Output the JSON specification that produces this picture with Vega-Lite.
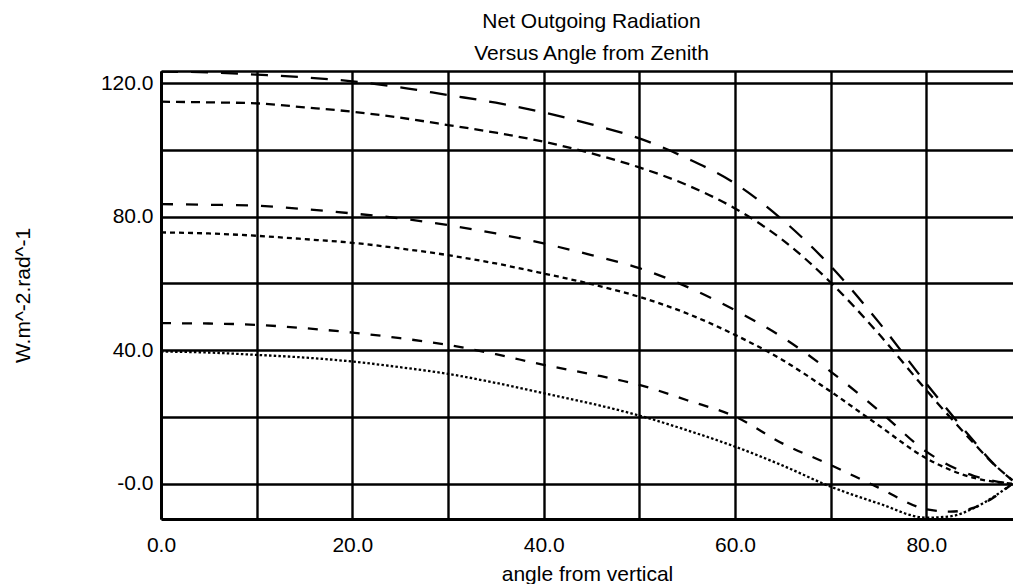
{
  "$schema": "https://vega.github.io/schema/vega-lite/v6.json",
  "width": 852,
  "height": 448,
  "autosize": {"type": "none"},
  "padding": {"left": 161, "top": 71, "right": 0, "bottom": 65},
  "background": "white",
  "config": {
    "view": {"stroke": null},
    "font": "Liberation Sans",
    "axis": {
      "gridColor": "black", "gridWidth": 2.4, "gridOpacity": 1,
      "domainColor": "black", "domainWidth": 3,
      "ticks": false, "labelFontSize": 21, "labelColor": "black",
      "labelFont": "Liberation Sans", "titleFont": "Liberation Sans",
      "titleFontSize": 21, "titleFontWeight": "normal", "titleColor": "black",
      "labelOverlap": false, "labelFlush": false, "labelBound": false
    }
  },
  "title": {
    "text": ["Net Outgoing Radiation", "Versus Angle from Zenith"],
    "fontSize": 21, "fontWeight": "normal", "lineHeight": 32,
    "anchor": "middle", "frame": "group", "dx": 4.5, "offset": -4, "color": "black",
    "font": "Liberation Sans"
  },
  "data": {"values": [
    {"series": "A", "angle": 0, "value": 123.5}, {"series": "A", "angle": 5, "value": 123.3}, {"series": "A", "angle": 10, "value": 122.6}, {"series": "A", "angle": 15, "value": 121.8}, {"series": "A", "angle": 20, "value": 120.6}, {"series": "A", "angle": 25, "value": 118.8}, {"series": "A", "angle": 30, "value": 116.5}, {"series": "A", "angle": 35, "value": 114.2}, {"series": "A", "angle": 40, "value": 111.3}, {"series": "A", "angle": 45, "value": 107.7}, {"series": "A", "angle": 50, "value": 103.5}, {"series": "A", "angle": 55, "value": 97.5}, {"series": "A", "angle": 60, "value": 90}, {"series": "A", "angle": 65, "value": 79}, {"series": "A", "angle": 70, "value": 65.2}, {"series": "A", "angle": 75, "value": 48.5}, {"series": "A", "angle": 80, "value": 30}, {"series": "A", "angle": 85, "value": 12.6}, {"series": "A", "angle": 87, "value": 6}, {"series": "A", "angle": 89, "value": 1},
    {"series": "B", "angle": 0, "value": 114.5}, {"series": "B", "angle": 5, "value": 114.3}, {"series": "B", "angle": 10, "value": 114}, {"series": "B", "angle": 15, "value": 112.8}, {"series": "B", "angle": 20, "value": 111.5}, {"series": "B", "angle": 25, "value": 109.7}, {"series": "B", "angle": 30, "value": 107.5}, {"series": "B", "angle": 35, "value": 105.2}, {"series": "B", "angle": 40, "value": 102.5}, {"series": "B", "angle": 45, "value": 99}, {"series": "B", "angle": 50, "value": 94.8}, {"series": "B", "angle": 55, "value": 89.5}, {"series": "B", "angle": 60, "value": 82.5}, {"series": "B", "angle": 65, "value": 73}, {"series": "B", "angle": 70, "value": 60.3}, {"series": "B", "angle": 75, "value": 45}, {"series": "B", "angle": 80, "value": 28}, {"series": "B", "angle": 85, "value": 12}, {"series": "B", "angle": 87, "value": 6}, {"series": "B", "angle": 89, "value": 1},
    {"series": "C", "angle": 0, "value": 83.8}, {"series": "C", "angle": 5, "value": 83.6}, {"series": "C", "angle": 10, "value": 83.3}, {"series": "C", "angle": 15, "value": 82.3}, {"series": "C", "angle": 20, "value": 81}, {"series": "C", "angle": 25, "value": 79.5}, {"series": "C", "angle": 30, "value": 77.5}, {"series": "C", "angle": 35, "value": 75}, {"series": "C", "angle": 40, "value": 72}, {"series": "C", "angle": 45, "value": 68.5}, {"series": "C", "angle": 50, "value": 64.6}, {"series": "C", "angle": 55, "value": 59}, {"series": "C", "angle": 60, "value": 52}, {"series": "C", "angle": 65, "value": 43.8}, {"series": "C", "angle": 70, "value": 33.6}, {"series": "C", "angle": 75, "value": 22}, {"series": "C", "angle": 80, "value": 9.6}, {"series": "C", "angle": 85, "value": 2.3}, {"series": "C", "angle": 87, "value": 0.8}, {"series": "C", "angle": 89, "value": 0},
    {"series": "D", "angle": 0, "value": 75.3}, {"series": "D", "angle": 5, "value": 75}, {"series": "D", "angle": 10, "value": 74.3}, {"series": "D", "angle": 15, "value": 73.3}, {"series": "D", "angle": 20, "value": 72.2}, {"series": "D", "angle": 25, "value": 70.5}, {"series": "D", "angle": 30, "value": 68.5}, {"series": "D", "angle": 35, "value": 66}, {"series": "D", "angle": 40, "value": 63}, {"series": "D", "angle": 45, "value": 59.8}, {"series": "D", "angle": 50, "value": 56}, {"series": "D", "angle": 55, "value": 51}, {"series": "D", "angle": 60, "value": 44.6}, {"series": "D", "angle": 65, "value": 37}, {"series": "D", "angle": 70, "value": 27.6}, {"series": "D", "angle": 75, "value": 17.5}, {"series": "D", "angle": 80, "value": 7.6}, {"series": "D", "angle": 85, "value": 1.7}, {"series": "D", "angle": 87, "value": 0.6}, {"series": "D", "angle": 89, "value": 0},
    {"series": "E", "angle": 0, "value": 48.1}, {"series": "E", "angle": 5, "value": 48}, {"series": "E", "angle": 10, "value": 47.6}, {"series": "E", "angle": 15, "value": 46.6}, {"series": "E", "angle": 20, "value": 45.3}, {"series": "E", "angle": 25, "value": 43.6}, {"series": "E", "angle": 30, "value": 41.6}, {"series": "E", "angle": 35, "value": 38.8}, {"series": "E", "angle": 40, "value": 35.6}, {"series": "E", "angle": 45, "value": 32.8}, {"series": "E", "angle": 50, "value": 29.6}, {"series": "E", "angle": 55, "value": 25}, {"series": "E", "angle": 60, "value": 20.1}, {"series": "E", "angle": 65, "value": 12}, {"series": "E", "angle": 70, "value": 5.6}, {"series": "E", "angle": 75, "value": -1.2}, {"series": "E", "angle": 80, "value": -7.7}, {"series": "E", "angle": 82.5, "value": -8.4}, {"series": "E", "angle": 85, "value": -7.2}, {"series": "E", "angle": 87, "value": -4.2}, {"series": "E", "angle": 89, "value": 0},
    {"series": "F", "angle": 0, "value": 39.6}, {"series": "F", "angle": 5, "value": 39.3}, {"series": "F", "angle": 10, "value": 38.6}, {"series": "F", "angle": 15, "value": 37.8}, {"series": "F", "angle": 20, "value": 36.6}, {"series": "F", "angle": 25, "value": 34.9}, {"series": "F", "angle": 30, "value": 32.9}, {"series": "F", "angle": 35, "value": 30.2}, {"series": "F", "angle": 40, "value": 27.1}, {"series": "F", "angle": 45, "value": 24}, {"series": "F", "angle": 50, "value": 20.4}, {"series": "F", "angle": 55, "value": 16}, {"series": "F", "angle": 60, "value": 11.1}, {"series": "F", "angle": 65, "value": 5.4}, {"series": "F", "angle": 70, "value": -0.9}, {"series": "F", "angle": 75, "value": -5.9}, {"series": "F", "angle": 80, "value": -10.2}, {"series": "F", "angle": 82.5, "value": -9.8}, {"series": "F", "angle": 85, "value": -7.3}, {"series": "F", "angle": 87, "value": -4}, {"series": "F", "angle": 89, "value": 0}
  ]},
  "mark": {"type": "line", "color": "black", "strokeWidth": 2.3, "clip": true, "interpolate": "monotone"},
  "encoding": {
    "x": {
      "field": "angle", "type": "quantitative",
      "scale": {"domain": [0, 89.06], "nice": false, "zero": false},
      "axis": {
        "title": "angle from vertical",
        "values": [0, 10, 20, 30, 40, 50, 60, 70, 80],
        "labelExpr": "datum.value % 20 == 0 ? format(datum.value, '.1f') : ''",
        "labelPadding": 15, "titlePadding": 8
      }
    },
    "y": {
      "field": "value", "type": "quantitative",
      "scale": {"domain": [-10.6, 123.7], "nice": false, "zero": false},
      "axis": {
        "title": "W.m^-2.rad^-1",
        "values": [0, 20, 40, 60, 80, 100, 120, 123.7],
        "labelExpr": "datum.value == 0 ? '-0.0' : (datum.value % 40 == 0 ? format(datum.value, '.1f') : '')",
        "labelPadding": 8,
        "titleX": -138, "titleBaseline": "middle", "titleAnchor": "middle"
      }
    },
    "detail": {"field": "series"},
    "strokeDash": {
      "field": "series", "type": "nominal", "legend": null,
      "scale": {"domain": ["A", "B", "C", "D", "E", "F"], "range": [[17, 13], [9, 6], [12, 13], [5, 4], [10, 11], [2.5, 2.2]]}
    }
  }
}
